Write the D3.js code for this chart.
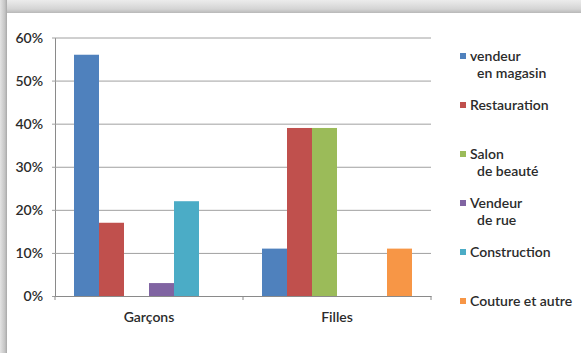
<!DOCTYPE html>
<html>
<head>
<meta charset="utf-8">
<script src="https://cdn.jsdelivr.net/npm/d3@7"></script>
<style>
  html, body { margin: 0; padding: 0; background: #fff; }
  svg { display: block; }
  text { font-family: Lato, "Open Sans", sans-serif; fill: #2b2b2b; }
</style>
</head>
<body>
<svg id="chart" width="581" height="353"></svg>
<script>
const categories = ["Garçons", "Filles"];
const seriesNames = ["vendeur en magasin", "Restauration", "Salon de beauté", "Vendeur de rue", "Construction", "Couture et autre"];
const legendLines = [["vendeur", "en magasin"], ["Restauration"], ["Salon", "de beauté"], ["Vendeur", "de rue"], ["Construction"], ["Couture et autre"]];
const garconsValues = [56, 17, 0, 3, 22, 0];
const fillesValues = [11, 39, 39, 0, 0, 11];
const yTicks = [0, 10, 20, 30, 40, 50, 60];
const colors = ["#4F81BD", "#C0504D", "#9BBB59", "#8064A2", "#4BACC6", "#F79646"];

const valuesByCategory = [garconsValues, fillesValues];
const data = categories.map((c, i) => ({
  category: c,
  values: seriesNames.map((s, j) => ({ series: s, value: valuesByCategory[i][j] }))
}));

const svg = d3.select("#chart");

// frame / shadow
const defs = svg.append("defs");
const gTop = defs.append("linearGradient").attr("id", "gtop").attr("x1", 0).attr("y1", 0).attr("x2", 0).attr("y2", 1);
gTop.append("stop").attr("offset", "0%").attr("stop-color", "#ececec");
gTop.append("stop").attr("offset", "70%").attr("stop-color", "#d4d4d4");
gTop.append("stop").attr("offset", "100%").attr("stop-color", "#b8b8b8");
const gLeft = defs.append("linearGradient").attr("id", "gleft").attr("x1", 0).attr("y1", 0).attr("x2", 1).attr("y2", 0);
gLeft.append("stop").attr("offset", "0%").attr("stop-color", "#e4e4e4");
gLeft.append("stop").attr("offset", "70%").attr("stop-color", "#c4c4c4");
gLeft.append("stop").attr("offset", "100%").attr("stop-color", "#a8a8a8");
svg.append("rect").attr("x", 0).attr("y", 0).attr("width", 581).attr("height", 13).attr("fill", "url(#gtop)");
svg.append("rect").attr("x", 0).attr("y", 0).attr("width", 7).attr("height", 353).attr("fill", "url(#gleft)");
svg.append("rect").attr("x", 7).attr("y", 13).attr("width", 574).attr("height", 340).attr("fill", "#ffffff");

const plotLeft = 55, plotRight = 431, plotTop = 37.5, plotBottom = 296;

const x0 = d3.scaleBand().domain(categories).range([plotLeft, plotRight]).paddingInner(0).paddingOuter(0);
const x1 = d3.scaleBand().domain(seriesNames).range([0, x0.bandwidth()]).paddingInner(0).paddingOuter(0.76);
const y = d3.scaleLinear().domain([0, 60]).range([plotBottom, plotTop]);
const color = d3.scaleOrdinal().domain(seriesNames).range(colors);

// gridlines
const yAxis = d3.axisLeft(y).tickValues(yTicks).tickSize(-(plotRight - plotLeft)).tickSizeOuter(0).tickFormat(d => d + "%");
const gy = svg.append("g").attr("transform", `translate(${plotLeft},0)`).call(yAxis);
gy.select(".domain").attr("stroke", "#8a8a8a");
gy.selectAll(".tick line").attr("stroke", "#a0a0a0").attr("stroke-width", 1).attr("x1", -3);
gy.selectAll(".tick text").attr("x", -12).attr("dy", "0.35em").style("font-size", "14px").style("font-weight", "600");

// bars
const groups = svg.append("g").selectAll("g").data(data).join("g")
  .attr("transform", d => `translate(${x0(d.category)},0)`);
groups.selectAll("rect").data(d => d.values.filter(v => v.value > 0)).join("rect")
  .attr("x", d => x1(d.series))
  .attr("width", x1.bandwidth())
  .attr("y", d => y(d.value))
  .attr("height", d => y(0) - y(d.value))
  .attr("fill", d => color(d.series));

// x axis
const xAxis = d3.axisBottom(x0).tickSize(0).tickSizeOuter(0);
const gx = svg.append("g").attr("transform", `translate(0,${plotBottom})`).call(xAxis);
gx.select(".domain").attr("stroke", "#8a8a8a");
gx.selectAll(".tick text").attr("y", 21).attr("dy", "0.35em").style("font-size", "14px").style("font-weight", "600");
// category boundary ticks
svg.append("g").selectAll("line").data([...categories.map(c => x0(c)), plotRight]).join("line")
  .attr("x1", d => d).attr("x2", d => d).attr("y1", plotBottom).attr("y2", plotBottom + 4)
  .attr("stroke", "#8a8a8a");

// legend
const legY = d3.scaleLinear().domain([0, seriesNames.length - 1]).range([56, 301]);
const leg = svg.append("g").selectAll("g").data(seriesNames).join("g")
  .attr("transform", (d, i) => `translate(460,${legY(i)})`);
leg.append("rect").attr("x", 0).attr("y", -3).attr("width", 6).attr("height", 6).attr("fill", d => color(d));
leg.each(function(d, i) {
  const g = d3.select(this);
  legendLines[i].forEach((line, k) => {
    g.append("text").attr("x", k === 0 ? 10 : 17).attr("y", k * 17).attr("dy", "0.35em")
      .style("font-size", "14px").style("font-weight", "600").text(line);
  });
});
</script>
</body>
</html>
